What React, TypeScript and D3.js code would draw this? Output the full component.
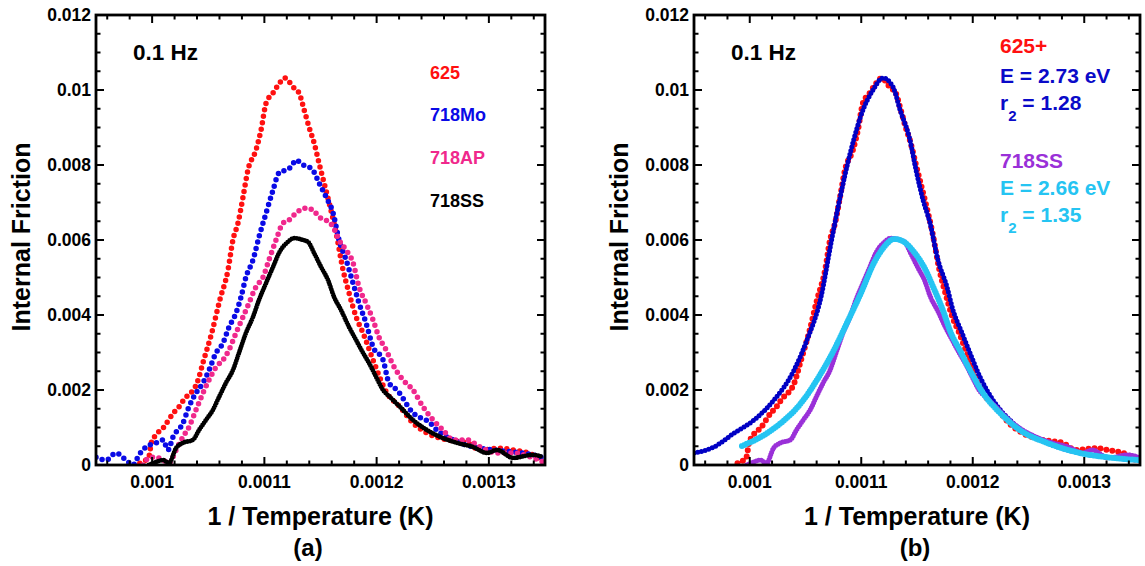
import React from "react";
import * as d3 from "d3";

type Pt = [number, number];

// ---------- data (x = 1/T, y = internal friction) ----------
const red625: Pt[] = [
  [0.000989, 0.00005], [0.000997, 0.00021], [0.0009993, 0.00059], [0.001002, 0.00075],
  [0.0010101, 0.001], [0.001019, 0.00139], [0.0010239, 0.00155], [0.001028, 0.00173],
  [0.00104, 0.00219], [0.001046, 0.0028], [0.0010531, 0.00352], [0.0010603, 0.0044],
  [0.0010676, 0.0052], [0.001072, 0.006], [0.0010765, 0.00645], [0.001081, 0.00715],
  [0.0010854, 0.00787], [0.0010925, 0.0084], [0.001097, 0.00893], [0.0011015, 0.00965],
  [0.0011077, 0.00992], [0.0011122, 0.01013], [0.0011184, 0.01032], [0.0011255, 0.01008],
  [0.0011309, 0.00992], [0.0011354, 0.00947], [0.0011398, 0.00901], [0.0011443, 0.00859],
  [0.0011487, 0.00805], [0.0011532, 0.00752], [0.0011577, 0.00699], [0.0011639, 0.00619],
  [0.0011701, 0.0052], [0.0011754, 0.00459], [0.0011817, 0.00395], [0.0011879, 0.00352],
  [0.0011968, 0.0028], [0.0012092, 0.00192], [0.0012208, 0.00155], [0.0012324, 0.00112],
  [0.0012449, 0.00085], [0.0012627, 0.00067], [0.0012805, 0.00059], [0.0012921, 0.0004],
  [0.0013099, 0.00045], [0.0013215, 0.0004], [0.0013393, 0.00027], [0.0013455, 0.00013],
];

const blue718Mo: Pt[] = [
  [0.00095, 0.00021], [0.0009589, 0.00013], [0.0009678, 0.00032], [0.0009767, 0.00013],
  [0.000983, 0.0], [0.0009883, 0.00027], [0.0009945, 0.00048], [0.0010035, 0.00059],
  [0.0010097, 0.00067], [0.0010141, 0.0004], [0.0010186, 0.00075], [0.0010275, 0.00112],
  [0.0010328, 0.00155], [0.0010391, 0.00192], [0.0010453, 0.00219], [0.0010507, 0.00253],
  [0.0010569, 0.00299], [0.0010631, 0.00325], [0.0010685, 0.00368], [0.0010747, 0.00405],
  [0.0010792, 0.00448], [0.0010836, 0.00501], [0.0010899, 0.00547], [0.0010952, 0.00608],
  [0.0011015, 0.00672], [0.0011077, 0.00733], [0.001113, 0.00779], [0.0011193, 0.00787],
  [0.0011237, 0.00795], [0.0011282, 0.00813], [0.0011344, 0.008], [0.0011398, 0.00795],
  [0.0011443, 0.00781], [0.0011487, 0.00752], [0.0011549, 0.00715], [0.0011612, 0.00672],
  [0.0011665, 0.006], [0.0011728, 0.00547], [0.001179, 0.00485], [0.0011843, 0.00432],
  [0.0011905, 0.00379], [0.0011968, 0.00315], [0.0012057, 0.0028], [0.001211, 0.00219],
  [0.0012181, 0.002], [0.0012324, 0.00139], [0.0012476, 0.00112], [0.0012537, 0.00093],
  [0.001268, 0.00067], [0.0012858, 0.00048], [0.0013037, 0.0004], [0.0013215, 0.00035],
  [0.0013393, 0.00027], [0.0013482, 0.00019],
];

const pink718AP: Pt[] = [
  [0.0009919, 0.0], [0.0009972, 0.00019], [0.0010035, 0.00021], [0.0010097, 0.00013],
  [0.001015, 0.00005], [0.0010213, 0.0004], [0.0010275, 0.00075], [0.0010328, 0.00101],
  [0.0010391, 0.00147], [0.0010453, 0.00192], [0.0010507, 0.00227], [0.0010569, 0.00261],
  [0.0010631, 0.0028], [0.0010685, 0.00307], [0.0010747, 0.00352], [0.001081, 0.00395],
  [0.0010863, 0.00432], [0.0010925, 0.00475], [0.0010988, 0.00501], [0.0011041, 0.00547],
  [0.0011104, 0.006], [0.0011166, 0.00645], [0.0011219, 0.00653], [0.0011282, 0.00672],
  [0.0011371, 0.00685], [0.0011433, 0.0068], [0.0011487, 0.00661], [0.0011549, 0.00653],
  [0.0011612, 0.00635], [0.0011665, 0.006], [0.0011728, 0.00573], [0.001179, 0.00539],
  [0.0011843, 0.00475], [0.0011905, 0.00432], [0.0011968, 0.00387], [0.0012021, 0.00341],
  [0.0012084, 0.00307], [0.0012146, 0.00267], [0.0012235, 0.00227], [0.0012324, 0.002],
  [0.0012414, 0.00155], [0.0012503, 0.0012], [0.0012592, 0.00093], [0.001268, 0.00067],
  [0.0012805, 0.00067], [0.0012921, 0.00048], [0.0013072, 0.00032], [0.0013215, 0.00032],
  [0.0013393, 0.00019], [0.0013482, 0.00008],
];

const black718SS: Pt[] = [
  [0.0009972, 0.0], [0.0010035, 0.00008], [0.0010097, 0.00013], [0.001015, 0.00005],
  [0.0010213, 0.00045], [0.0010275, 0.00059], [0.0010364, 0.00067], [0.0010418, 0.00093],
  [0.001048, 0.0012], [0.0010542, 0.00147], [0.0010596, 0.00181], [0.0010658, 0.00219],
  [0.001072, 0.00253], [0.0010774, 0.00299], [0.0010836, 0.00352], [0.0010899, 0.00395],
  [0.0010952, 0.0044], [0.0011015, 0.00485], [0.0011077, 0.00528], [0.001113, 0.00565],
  [0.001121, 0.00595], [0.0011264, 0.00605], [0.0011344, 0.006], [0.0011389, 0.00595],
  [0.0011443, 0.00565], [0.0011505, 0.00528], [0.0011567, 0.00493], [0.0011621, 0.00448],
  [0.0011683, 0.00413], [0.0011754, 0.00368], [0.0011817, 0.00333], [0.0011879, 0.00299],
  [0.0011932, 0.00272], [0.0011995, 0.00235], [0.0012057, 0.002], [0.0012119, 0.00181],
  [0.0012208, 0.00155], [0.0012324, 0.0012], [0.0012449, 0.00093], [0.0012565, 0.00075],
  [0.0012716, 0.00059], [0.0012858, 0.00048], [0.0012983, 0.00032], [0.0013072, 0.0004],
  [0.0013215, 0.00019], [0.0013393, 0.00027], [0.0013482, 0.00021],
];

const fit625: Pt[] = [
  [0.00095, 0.00032], [0.0009679, 0.00048], [0.0009859, 0.00085], [0.0010038, 0.0012],
  [0.0010217, 0.00173], [0.0010397, 0.00253], [0.0010513, 0.00333], [0.0010639, 0.00448],
  [0.0010729, 0.00592], [0.00108, 0.00699], [0.0010908, 0.0084], [0.0011016, 0.00947],
  [0.0011105, 0.01], [0.0011195, 0.01032], [0.0011285, 0.01008], [0.0011348, 0.00947],
  [0.0011437, 0.00867], [0.0011491, 0.00787], [0.0011554, 0.00707], [0.0011617, 0.00645],
  [0.0011688, 0.00547], [0.0011769, 0.00475], [0.0011823, 0.00413], [0.0011904, 0.00352],
  [0.0011975, 0.00299], [0.0012065, 0.00235], [0.0012182, 0.00173], [0.0012361, 0.00112],
  [0.0012666, 0.00059], [0.0012962, 0.00032], [0.0013258, 0.00019], [0.00135, 0.00013],
];

const fit718SS: Pt[] = [
  [0.000993, 0.00051], [0.0010101, 0.00075], [0.001028, 0.00112], [0.001046, 0.00165],
  [0.0010603, 0.00227], [0.0010756, 0.00307], [0.0010872, 0.00379], [0.0010998, 0.00459],
  [0.0011114, 0.00539], [0.0011204, 0.00581], [0.0011294, 0.00603], [0.0011383, 0.00595],
  [0.0011473, 0.00568], [0.0011563, 0.00528], [0.0011652, 0.0047], [0.0011742, 0.00405],
  [0.0011796, 0.00358], [0.0011886, 0.00305], [0.0011975, 0.00253], [0.0012092, 0.00192],
  [0.0012244, 0.00139], [0.0012423, 0.00093], [0.0012666, 0.00059], [0.0012962, 0.00032],
  [0.0013258, 0.00019], [0.00135, 0.00013],
];

const xMajor = [0.001, 0.0011, 0.0012, 0.0013];
const xTickLabels = ["0.001", "0.0011", "0.0012", "0.0013"];
const yMajor = [0, 0.002, 0.004, 0.006, 0.008, 0.01, 0.012];
const yTickLabels = ["0", "0.002", "0.004", "0.006", "0.008", "0.01", "0.012"];
const xMinor = d3.range(48, 68).filter((i) => i % 5 !== 0).map((i) => i * 0.00002);
const yMinor = d3.range(0, 25).filter((i) => i % 4 !== 0).map((i) => i * 0.0005);

const FONT = "'Liberation Sans', Arial, Helvetica, sans-serif";
const TOP = 15;
const BOTTOM = 465;

type Layer = { data: Pt[]; color: string; width: number; gap: number };

function Panel(props: {
  id: string;
  x0: number;
  x1: number;
  layers: Layer[];
  panelLabel: string;
  labelX: number;
  children?: React.ReactNode;
}) {
  const { id, x0, x1, layers, panelLabel, labelX, children } = props;
  const x = d3.scaleLinear().domain([0.00095, 0.00135]).range([x0, x1]);
  const y = d3.scaleLinear().domain([0, 0.012]).range([BOTTOM, TOP]);
  const line = d3
    .line<Pt>()
    .x((d) => x(d[0]))
    .y((d) => y(d[1]))
    .curve(d3.curveMonotoneX);
  const MJ = 8;
  const MN = 4.5;
  return (
    <g>
      <defs>
        <clipPath id={`clip-${id}`}>
          <rect x={x0} y={TOP} width={x1 - x0} height={BOTTOM - TOP} />
        </clipPath>
      </defs>
      <g clipPath={`url(#clip-${id})`}>
        {layers.map((l, i) => (
          <path
            key={i}
            d={line(l.data) || ""}
            fill="none"
            stroke={l.color}
            strokeWidth={l.width}
            strokeLinecap="round"
            strokeDasharray={`0 ${l.gap}`}
          />
        ))}
      </g>
      {/* ticks */}
      <g stroke="#000" strokeWidth={2}>
        {xMajor.map((v, i) => (
          <g key={"xm" + i}>
            <line x1={x(v)} x2={x(v)} y1={BOTTOM} y2={BOTTOM - MJ} />
            <line x1={x(v)} x2={x(v)} y1={TOP} y2={TOP + MJ} />
          </g>
        ))}
        {xMinor.map((v, i) => (
          <g key={"xn" + i}>
            <line x1={x(v)} x2={x(v)} y1={BOTTOM} y2={BOTTOM - MN} />
            <line x1={x(v)} x2={x(v)} y1={TOP} y2={TOP + MN} />
          </g>
        ))}
        {yMajor.map((v, i) => (
          <g key={"ym" + i}>
            <line x1={x0} x2={x0 + MJ} y1={y(v)} y2={y(v)} />
            <line x1={x1} x2={x1 - MJ} y1={y(v)} y2={y(v)} />
          </g>
        ))}
        {yMinor.map((v, i) => (
          <g key={"yn" + i}>
            <line x1={x0} x2={x0 + MN} y1={y(v)} y2={y(v)} />
            <line x1={x1} x2={x1 - MN} y1={y(v)} y2={y(v)} />
          </g>
        ))}
      </g>
      <rect x={x0} y={TOP} width={x1 - x0} height={BOTTOM - TOP} fill="none" stroke="#000" strokeWidth={2.8} />
      {/* tick labels */}
      <g fontFamily={FONT} fontWeight="bold" fontSize={17.5} fill="#000">
        {xMajor.map((v, i) => (
          <text key={"xl" + i} x={x(v)} y={488} textAnchor="middle">
            {xTickLabels[i]}
          </text>
        ))}
        {yMajor.map((v, i) => (
          <text key={"yl" + i} x={x0 - 5} y={y(v)} dy="0.36em" textAnchor="end">
            {yTickLabels[i]}
          </text>
        ))}
      </g>
      {/* axis titles */}
      <g fontFamily={FONT} fontWeight="bold" fontSize={25} fill="#000">
        <text x={(x0 + x1) / 2} y={525} textAnchor="middle">
          1 / Temperature (K)
        </text>
        <text transform={`translate(${x0 - 66},${237}) rotate(-90)`} textAnchor="middle">
          Internal Friction
        </text>
        <text x={labelX} y={556} textAnchor="middle" fontSize={24}>
          {panelLabel}
        </text>
        <text x={x0 + 37} y={60} fontSize={22.5}>
          0.1 Hz
        </text>
      </g>
      {children}
    </g>
  );
}

export default function App() {
  const leftX0 = 96;
  const rightX0 = 694;
  return (
    <div style={{ position: "absolute", left: 0, top: 0 }}>
      <svg width={1145} height={566} style={{ display: "block", background: "#fff" }}>
        <Panel
          id="a"
          x0={leftX0}
          x1={545}
          panelLabel="(a)"
          labelX={308}
          layers={[
            { data: red625, color: "#ff1010", width: 5.5, gap: 6.5 },
            { data: blue718Mo, color: "#0a0ae6", width: 5.5, gap: 6.5 },
            { data: pink718AP, color: "#f0288c", width: 5.5, gap: 6.5 },
            { data: black718SS, color: "#000000", width: 4.8, gap: 2.6 },
          ]}
        >
          <g fontFamily={FONT} fontWeight="bold" fontSize={18}>
            <text x={430} y={79} fill="#ff1010">625</text>
            <text x={430} y={121} fill="#0a0ae6">718Mo</text>
            <text x={430} y={164} fill="#f0288c">718AP</text>
            <text x={430} y={207} fill="#000">718SS</text>
          </g>
        </Panel>
        <Panel
          id="b"
          x0={rightX0}
          x1={1140}
          panelLabel="(b)"
          labelX={915}
          layers={[
            { data: red625, color: "#ff1010", width: 6, gap: 6 },
            { data: fit625, color: "#0000c4", width: 5, gap: 3.8 },
            { data: black718SS, color: "#9a30d8", width: 5, gap: 2.6 },
            { data: fit718SS, color: "#25c4f2", width: 6, gap: 2.6 },
          ]}
        >
          <g fontFamily={FONT} fontWeight="bold" fontSize={21}>
            <text x={1000} y={53} fill="#ff1010">625+</text>
            <text x={1000} y={83} fill="#0a0ac8">E = 2.73 eV</text>
            <text x={1000} y={110} fill="#0a0ac8">
              r<tspan dy={11} fontSize={15}>2</tspan>
              <tspan dy={-11}> = 1.28</tspan>
            </text>
            <text x={1000} y={168} fill="#9a30d8">718SS</text>
            <text x={1000} y={195} fill="#25c4f2">E = 2.66 eV</text>
            <text x={1000} y={222} fill="#25c4f2">
              r<tspan dy={11} fontSize={15}>2</tspan>
              <tspan dy={-11}> = 1.35</tspan>
            </text>
          </g>
        </Panel>
      </svg>
    </div>
  );
}
